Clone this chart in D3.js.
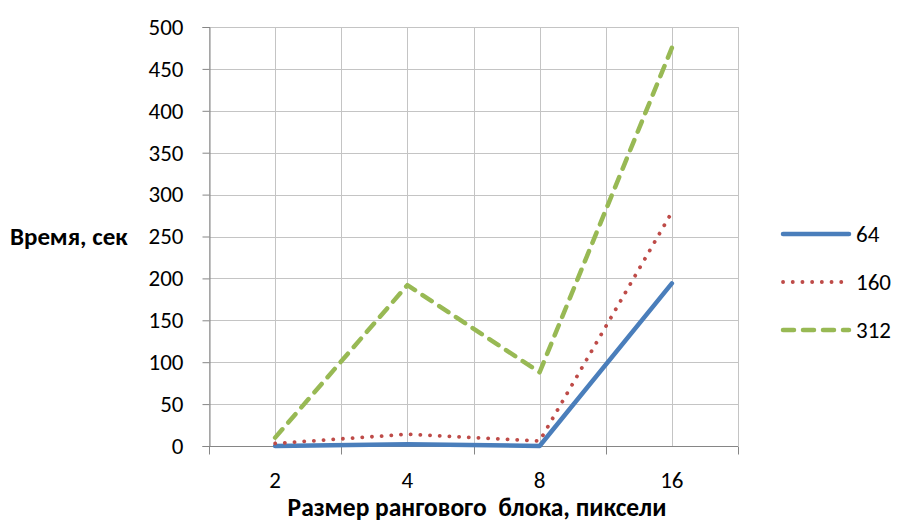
<!DOCTYPE html>
<html>
<head>
<meta charset="utf-8">
<script src="https://cdn.jsdelivr.net/npm/d3@7"></script>
<style>
  html, body { margin: 0; padding: 0; background: #fff; }
  svg { display: block; }
  text { font-family: Carlito, "Open Sans", "Noto Sans", sans-serif; fill: #000; white-space: pre; }
</style>
</head>
<body>
<svg id="chart" width="898" height="531"></svg>
<script>
// Block sizes (x categories) and run times per series
const categories = ["2", "4", "8", "16"];
const seriesNames = ["64", "160", "312"];
const values64  = [0, 2, 0, 194];
const values160 = [3, 14, 6, 279];
const values312 = [10, 192, 88, 475];
const yTicks = [0, 50, 100, 150, 200, 250, 300, 350, 400, 450, 500];

const series = [
  { name: seriesNames[0], values: values64,  color: "#4a7ebb", width: 4.5, dash: null },
  { name: seriesNames[1], values: values160, color: "#be4b48", width: 3.8, dash: "0.1 9.6" },
  { name: seriesNames[2], values: values312, color: "#98b954", width: 4.5, dash: "11 9" }
];

const svg = d3.select("#chart");
const plot = { left: 209, right: 738, top: 27, bottom: 446 };

const x = d3.scaleBand().domain(categories).range([plot.left, plot.right]).padding(0);
const y = d3.scaleLinear().domain([0, 500]).range([plot.bottom, plot.top]);
const cx = c => x(c) + x.bandwidth() / 2;

// Grid: horizontal lines per tick, vertical at band edges and centers
const grid = svg.append("g").attr("stroke", "#c4c4c4").attr("stroke-width", 1);
yTicks.forEach(t => {
  grid.append("line").attr("x1", plot.left).attr("x2", plot.right)
    .attr("y1", Math.round(y(t)) + 0.5).attr("y2", Math.round(y(t)) + 0.5);
});
const vLines = [];
categories.forEach(c => { vLines.push(x(c)); vLines.push(cx(c)); });
vLines.push(plot.right);
vLines.forEach(v => {
  grid.append("line").attr("x1", Math.round(v) + 0.5).attr("x2", Math.round(v) + 0.5)
    .attr("y1", plot.top).attr("y2", plot.bottom);
});

// Y axis
const yAxis = svg.append("g")
  .attr("transform", `translate(${plot.left + 0.5},0)`)
  .call(d3.axisLeft(y).tickValues(yTicks).tickSize(7).tickPadding(19));
yAxis.select(".domain").attr("stroke", "#868686");
yAxis.selectAll(".tick line").attr("stroke", "#868686");
yAxis.selectAll(".tick text").style("font-size", "23px").attr("fill", "#000");

// X axis: ticks at band boundaries, labels at band centers
const xAxis = svg.append("g").attr("transform", `translate(0,${plot.bottom + 0.5})`);
xAxis.append("line").attr("x1", plot.left).attr("x2", plot.right)
  .attr("stroke", "#868686");
const edges = categories.map(c => x(c)).concat([plot.right]);
edges.forEach(e => {
  xAxis.append("line").attr("x1", Math.round(e) + 0.5).attr("x2", Math.round(e) + 0.5)
    .attr("y1", 0).attr("y2", 8).attr("stroke", "#868686");
});
categories.forEach(c => {
  xAxis.append("text").attr("x", cx(c)).attr("y", 41)
    .attr("text-anchor", "middle").style("font-size", "23px").text(c);
});

// Lines
const line = d3.line().x((d, i) => cx(categories[i])).y(d => y(d));
series.forEach(s => {
  svg.append("path").datum(s.values)
    .attr("d", line)
    .attr("fill", "none")
    .attr("stroke", s.color)
    .attr("stroke-width", s.width)
    .attr("stroke-linejoin", "round")
    .attr("stroke-linecap", "round")
    .attr("stroke-dasharray", s.dash);
});

// Axis titles
svg.append("text").attr("x", 10).attr("y", 245)
  .style("font-size", "25px").style("font-weight", "bold").text("Время, сек");
svg.append("text").attr("x", 477).attr("y", 516).attr("text-anchor", "middle")
  .style("font-size", "25.5px").style("font-weight", "bold").text("Размер рангового  блока, пиксели");

// Legend
const legend = svg.append("g");
series.forEach((s, i) => {
  const ly = 234 + i * 48;
  legend.append("line").attr("x1", 783).attr("x2", 849).attr("y1", ly).attr("y2", ly)
    .attr("stroke", s.color).attr("stroke-width", s.width)
    .attr("stroke-linecap", "round").attr("stroke-dasharray", s.dash);
  legend.append("text").attr("x", 856).attr("y", ly + 8)
    .style("font-size", "23px").text(s.name);
});
</script>
</body>
</html>
